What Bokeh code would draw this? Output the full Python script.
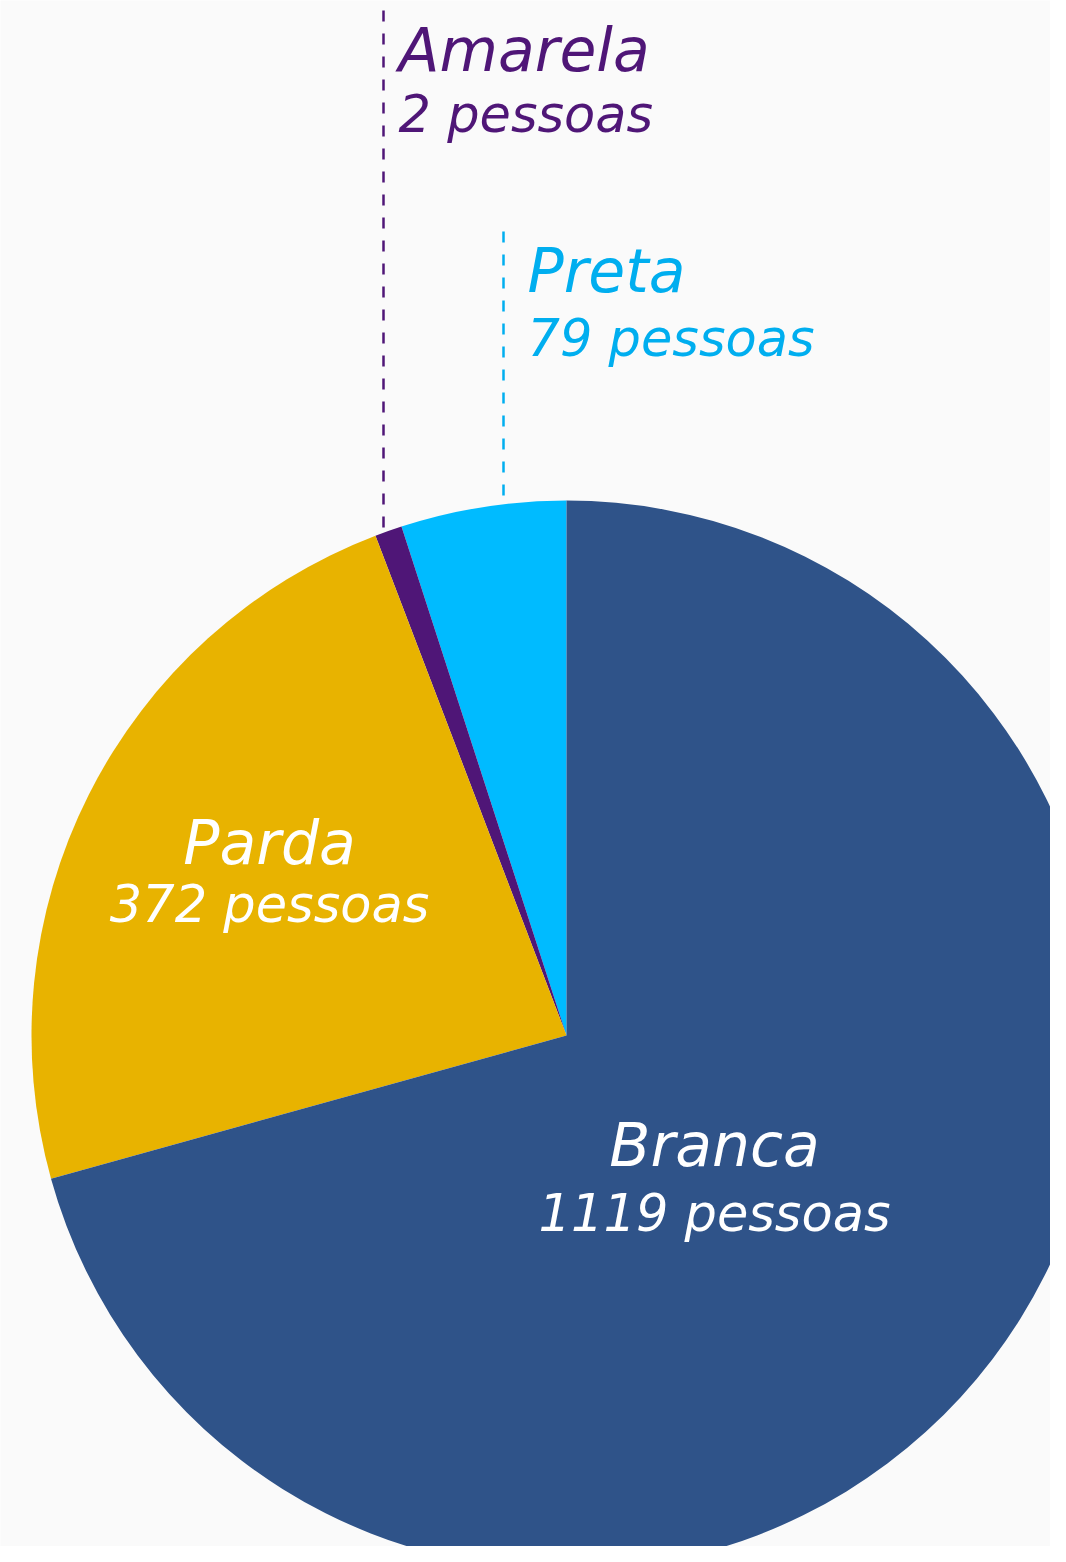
from bokeh.plotting import figure
from bokeh.models import Range1d, ColumnDataSource
from bokeh.core.properties import value
from bokeh.embed import file_html
from bokeh.resources import INLINE
import math

# ---- data ----
categories = ["Preta", "Amarela", "Parda", "Branca"]
counts = [79, 2, 372, 1119]              # people, as labelled
# slice sizes as drawn in the original (Amarela is drawn larger than its count)
slice_sizes = [79, 13, 372, 1119]
colors = ["#00BBFF", "#4F1677", "#E8B300", "#2F5389"]

# ---- layout (pixel space of the page, y measured upward) ----
W, H = 1050, 1546
BG = "#FAFAFA"
REF_H = 1562
CX, CY, R = 566, REF_H - 1035, 535

p = figure(width=W, height=H, output_backend="svg", toolbar_location=None,
           x_range=Range1d(0, W), y_range=Range1d(REF_H - H, REF_H),
           min_border=0, background_fill_color=BG, border_fill_color=BG)
p.axis.visible = False
p.grid.visible = False
p.outline_line_color = None

total = sum(slice_sizes)
starts, ends = [], []
a = math.pi / 2
for s in slice_sizes:
    starts.append(a)
    a += 2 * math.pi * s / total
    ends.append(a)

src = ColumnDataSource(dict(start=starts, end=ends, color=colors, cat=categories))
p.wedge(x=CX, y=CY, radius=R, start_angle="start", end_angle="end",
        fill_color="color", line_color=None, source=src)

def Y(ref_y):
    return REF_H - ref_y

FONT = value("DejaVu Sans")

# leader lines
p.segment(x0=[383], y0=[Y(10)], x1=[383], y1=[Y(528)], line_color="#4F1677",
          line_width=2.5, line_dash="11 12")
p.segment(x0=[503], y0=[Y(231)], x1=[503], y1=[Y(495)], line_color="#00AEEF",
          line_width=2.5, line_dash="11 12")

def label(x, y1, y2, idx, color, align):
    p.text(x=[x], y=[Y(y1 - 23)], text=[categories[idx]], text_font=FONT,
           text_font_style="italic", text_font_size="60px", text_color=color,
           text_align=align, text_baseline="alphabetic")
    p.text(x=[x], y=[Y(y2 - 19)], text=[f"{counts[idx]} pessoas"], text_font=FONT,
           text_font_style="italic", text_font_size="51px", text_color=color,
           text_align=align, text_baseline="alphabetic")

label(398, 72, 133, 1, "#4F1677", "left")
label(527, 293, 357, 0, "#00AEEF", "left")
label(269, 865, 923, 2, "white", "center")
label(714, 1167, 1232, 3, "white", "center")

html = file_html(p, INLINE)
html = html.replace("<body>", '<body style="background-color:#FAFAFA;">', 1)
open("out.html", "w").write(html)
